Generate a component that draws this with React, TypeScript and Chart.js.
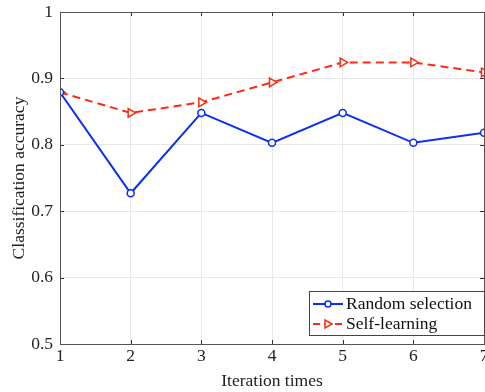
import React, { useEffect, useRef } from "react";
import { Chart, registerables } from "chart.js";

Chart.register(...registerables);

const iterations = [1, 2, 3, 4, 5, 6, 7];
const randomSelection = [0.879, 0.727, 0.848, 0.803, 0.848, 0.803, 0.818];
const selfLearning = [0.879, 0.848, 0.864, 0.894, 0.924, 0.924, 0.909];
const seriesNames = ["Random selection", "Self-learning"];
const yTicks = [0.5, 0.6, 0.7, 0.8, 0.9, 1];

const BLUE = "#0b2ff5";
const RED = "#ff2a12";
const FONT = "'Liberation Serif', 'Times New Roman', serif";
const FS = 17.5;

const boxPlugin = {
  id: "boxPlugin",
  afterDraw(chart: any) {
    const { ctx, chartArea: a, scales } = chart;
    ctx.save();
    ctx.strokeStyle = "#333";
    ctx.lineWidth = 1;
    ctx.beginPath();
    scales.x.ticks.forEach((t: any) => {
      const px = Math.round(scales.x.getPixelForValue(t.value)) + 0.5;
      ctx.moveTo(px, a.bottom);
      ctx.lineTo(px, a.bottom - 4);
      ctx.moveTo(px, a.top);
      ctx.lineTo(px, a.top + 4);
    });
    scales.y.ticks.forEach((t: any) => {
      const py = Math.round(scales.y.getPixelForValue(t.value)) + 0.5;
      ctx.moveTo(a.left, py);
      ctx.lineTo(a.left + 4, py);
      ctx.moveTo(a.right, py);
      ctx.lineTo(a.right - 4, py);
    });
    ctx.stroke();
    ctx.strokeStyle = "#555";
    ctx.lineWidth = 1;
    ctx.strokeRect(Math.round(a.left) + 0.5, Math.round(a.top) + 0.5, Math.round(a.right - a.left), Math.round(a.bottom - a.top));

    const lx = 309.5, ly = 291.5, lw = 175, lh = 44;
    ctx.fillStyle = "#fff";
    ctx.fillRect(lx, ly, lw, lh);
    ctx.strokeStyle = "#444";
    ctx.strokeRect(lx, ly, lw, lh);
    const rows = [
      { name: seriesNames[0], color: BLUE, dash: [], y: 304 },
      { name: seriesNames[1], color: RED, dash: [7, 4], y: 324 },
    ];
    rows.forEach((r, i) => {
      ctx.strokeStyle = r.color;
      ctx.lineWidth = 2;
      ctx.setLineDash(r.dash);
      ctx.beginPath();
      ctx.moveTo(313, r.y);
      ctx.lineTo(343, r.y);
      ctx.stroke();
      ctx.setLineDash([]);
      ctx.lineWidth = 1.5;
      ctx.fillStyle = "#fff";
      ctx.beginPath();
      if (i === 0) {
        ctx.arc(328, r.y, 3, 0, Math.PI * 2);
      } else {
        ctx.moveTo(332, r.y);
        ctx.lineTo(325, r.y - 4);
        ctx.lineTo(325, r.y + 4);
        ctx.closePath();
      }
      ctx.fill();
      ctx.stroke();
      ctx.fillStyle = "#111";
      ctx.font = `${FS}px ${FONT}`;
      ctx.textBaseline = "middle";
      ctx.textAlign = "left";
      ctx.fillText(r.name, 346, r.y);
    });
    ctx.restore();
  },
};

export default function App() {
  const ref = useRef<HTMLCanvasElement>(null);
  useEffect(() => {
    const chart = new Chart(ref.current!, {
      type: "line",
      data: {
        datasets: [
          {
            label: seriesNames[0],
            data: iterations.map((x, i) => ({ x, y: randomSelection[i] })),
            borderColor: BLUE,
            borderWidth: 2,
            pointStyle: "circle",
            pointRadius: 3.5,
            pointBorderWidth: 1.5,
            pointBackgroundColor: "#fff",
            pointBorderColor: BLUE,
            tension: 0,
          },
          {
            label: seriesNames[1],
            data: iterations.map((x, i) => ({ x, y: selfLearning[i] })),
            borderColor: RED,
            borderWidth: 2,
            borderDash: [8, 5],
            pointStyle: "triangle",
            pointRotation: 90,
            pointRadius: 5,
            pointBorderWidth: 1.5,
            pointBackgroundColor: "#fff",
            pointBorderColor: RED,
            tension: 0,
          },
        ],
      },
      options: {
        animation: false,
        responsive: false,
        devicePixelRatio: 1,
        layout: { padding: { top: 12, right: 36, left: 0, bottom: 0 } },
        plugins: { legend: { display: false }, tooltip: { enabled: false } },
        scales: {
          x: {
            type: "linear",
            min: 1,
            max: 7,
            afterBuildTicks: (s: any) => {
              s.ticks = iterations.map((v) => ({ value: v }));
            },
            afterFit: (s: any) => {
              s.height = 48;
              s.paddingLeft = 0;
              s.paddingRight = 0;
            },
            grid: { color: "#e8e8e8", drawTicks: false },
            border: { display: false },
            ticks: { color: "#222", padding: 2, font: { family: FONT, size: FS }, maxRotation: 0 },
            title: { display: true, text: "Iteration times", color: "#222", padding: 0, font: { family: FONT, size: FS } },
          },
          y: {
            min: 0.5,
            max: 1,
            afterBuildTicks: (s: any) => {
              s.ticks = yTicks.map((v) => ({ value: v }));
            },
            afterFit: (s: any) => {
              s.width = 60;
              s.paddingTop = 0;
              s.paddingBottom = 0;
            },
            grid: { color: "#e8e8e8", drawTicks: false },
            border: { display: false },
            ticks: {
              color: "#222",
              padding: 7,
              font: { family: FONT, size: FS },
              callback: (v: any) => String(v),
            },
            title: { display: true, text: "Classification accuracy", color: "#222", padding: { top: 9, bottom: 0 }, font: { family: FONT, size: FS } },
          },
        },
      },
      plugins: [boxPlugin],
    } as any);
    return () => chart.destroy();
  }, []);
  return (
    <div style={{ position: "fixed", left: 0, top: 0, width: 485, height: 392, overflow: "hidden", background: "#fff" }}>
      <canvas ref={ref} width={520} height={392} style={{ display: "block" }} />
    </div>
  );
}
